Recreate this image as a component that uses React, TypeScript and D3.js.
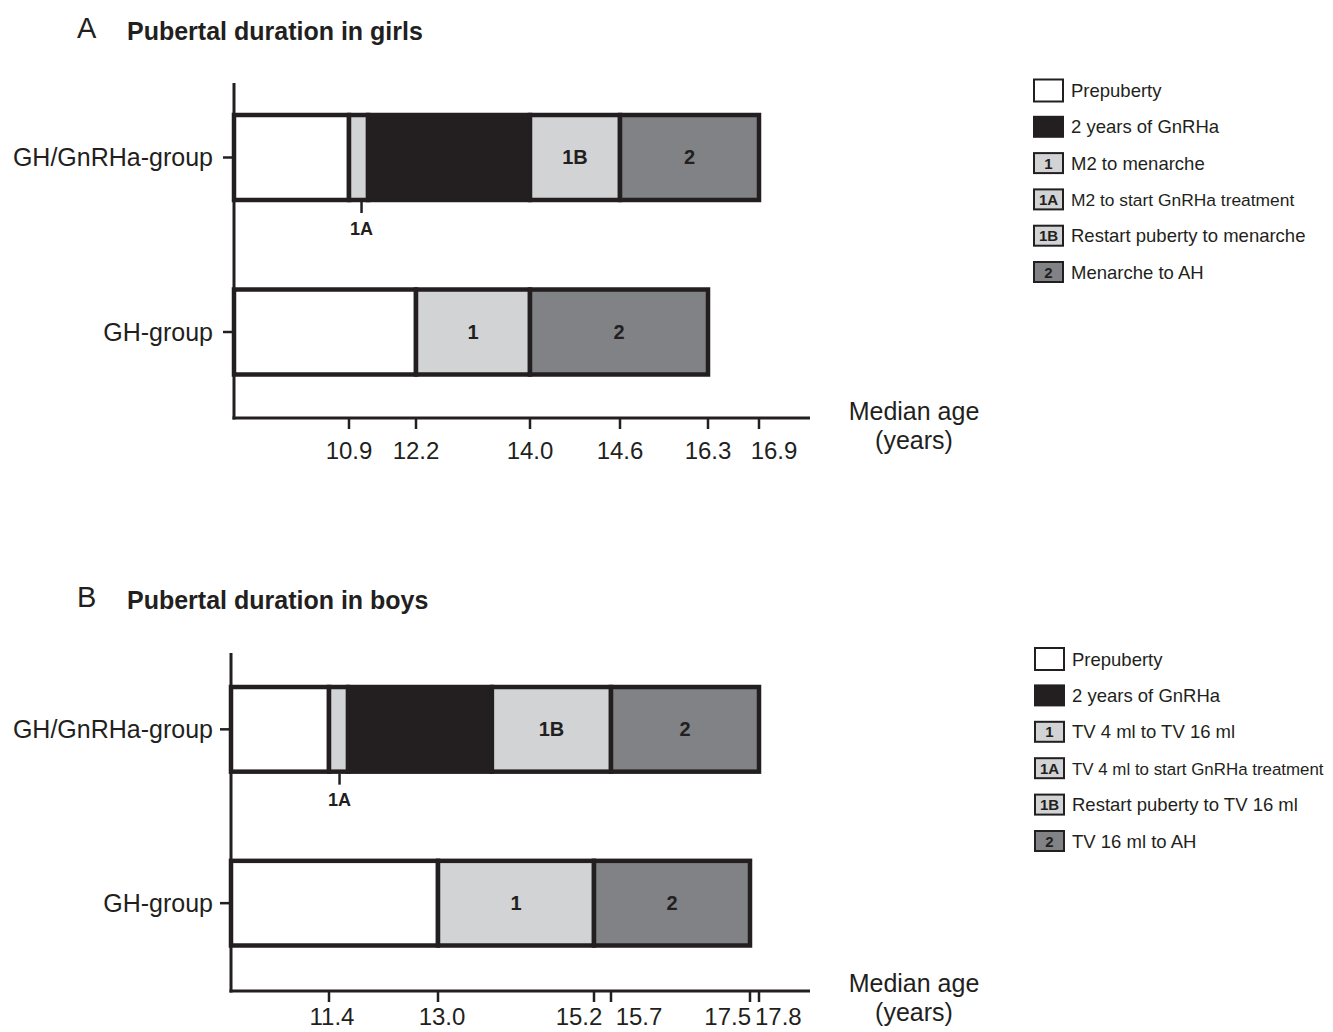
import React from "react";
import * as d3 from "d3";

// ---------- DATA ----------
const categories = ["GH/GnRHa-group", "GH-group"];

// Girls (panel A)
const girlsTicks = [10.9, 12.2, 14.0, 14.6, 16.3, 16.9];
const girlsGnrhaPhases = ["pre", "1A", "gnrha", "1B", "2"];
const girlsGnrhaEnds = [10.9, 11.27, 14.0, 14.6, 16.9];
const girlsGhPhases = ["pre", "1", "2"];
const girlsGhEnds = [12.2, 14.0, 16.3];
const girlsLegendKeys = ["pre", "gnrha", "1", "1A", "1B", "2"];
const girlsLegendLabels = [
  "Prepuberty",
  "2 years of GnRHa",
  "M2 to menarche",
  "M2 to start GnRHa treatment",
  "Restart puberty to menarche",
  "Menarche to AH",
];

// Boys (panel B)
const boysTicks = [11.4, 13.0, 15.2, 15.7, 17.5, 17.8];
const boysGnrhaPhases = ["pre", "1A", "gnrha", "1B", "2"];
const boysGnrhaEnds = [11.4, 11.68, 13.76, 15.7, 17.8];
const boysGhPhases = ["pre", "1", "2"];
const boysGhEnds = [13.0, 15.2, 17.5];
const boysLegendKeys = ["pre", "gnrha", "1", "1A", "1B", "2"];
const boysLegendLabels = [
  "Prepuberty",
  "2 years of GnRHa",
  "TV 4 ml to TV 16 ml",
  "TV 4 ml to start GnRHa treatment",
  "Restart puberty to TV 16 ml",
  "TV 16 ml to AH",
];

// ---------- STYLE / LAYOUT ----------
const DARK = "#231f20";
const LIGHT = "#d1d3d4";
const MID = "#808285";
const FONT = "'Liberation Sans', Arial, Helvetica, sans-serif";

const fills: Record<string, string> = {
  pre: "#ffffff",
  gnrha: DARK,
  "1": LIGHT,
  "1A": LIGHT,
  "1B": LIGHT,
  "2": MID,
};

type PanelCfg = {
  letter: string;
  title: string;
  titleY: number;
  axisX: number;
  axisTop: number;
  axisY: number;
  axisEnd: number;
  bandRange: [number, number];
  ticks: number[];
  tickX: number[]; // schematic (non-linear) axis positions
  tickLabelDx: number[];
  tickLabelAnchor: string[];
  tickLabelDy: number;
  rows: { phases: string[]; ends: number[] }[];
  legendKeys: string[];
  legendLabels: string[];
  legendY0: number;
  legendStep: number;
  legendX: number;
  legendFont: Record<number, number>;
  medianY: number;
  annY: number;
  annDx: number;
};

const panels: PanelCfg[] = [
  {
    letter: "A",
    title: "Pubertal duration in girls",
    titleY: 40,
    axisX: 234,
    axisTop: 83,
    axisY: 418,
    axisEnd: 810,
    bandRange: [115, 374.5],
    ticks: girlsTicks,
    tickX: [349, 416, 530, 620, 708, 759],
    tickLabelDx: [0, 0, 0, 0, 0, 15],
    tickLabelAnchor: ["middle", "middle", "middle", "middle", "middle", "middle"],
    tickLabelDy: 41,
    rows: [
      { phases: girlsGnrhaPhases, ends: girlsGnrhaEnds },
      { phases: girlsGhPhases, ends: girlsGhEnds },
    ],
    legendKeys: girlsLegendKeys,
    legendLabels: girlsLegendLabels,
    legendY0: 90.5,
    legendStep: 36.3,
    legendX: 1034,
    legendFont: { 3: 17.4 },
    medianY: 420,
    annY: 235,
    annDx: 3,
  },
  {
    letter: "B",
    title: "Pubertal duration in boys",
    titleY: 609,
    axisX: 231,
    axisTop: 653,
    axisY: 991,
    axisEnd: 810,
    bandRange: [687, 945.5],
    ticks: boysTicks,
    tickX: [329, 438, 594, 611, 750, 759],
    tickLabelDx: [3, 4, -15, 28, 1, -4],
    tickLabelAnchor: ["middle", "middle", "middle", "middle", "end", "start"],
    tickLabelDy: 34,
    rows: [
      { phases: boysGnrhaPhases, ends: boysGnrhaEnds },
      { phases: boysGhPhases, ends: boysGhEnds },
    ],
    legendKeys: boysLegendKeys,
    legendLabels: boysLegendLabels,
    legendY0: 659,
    legendStep: 36.4,
    legendX: 1035,
    legendFont: { 3: 16.9 },
    medianY: 992,
    annY: 806,
    annDx: 1,
  },
];

function Panel({ cfg }: { cfg: PanelCfg }) {
  const x = d3.scaleLinear().domain(cfg.ticks).range(cfg.tickX);
  const y = d3
    .scaleBand<string>()
    .domain(categories)
    .range(cfg.bandRange)
    .paddingInner(0.513)
    .paddingOuter(0);
  const bw = y.bandwidth();

  const segs: any[] = [];
  const annotations: any[] = [];
  cfg.rows.forEach((row, ri) => {
    const cat = categories[ri];
    const top = y(cat)!;
    row.phases.forEach((ph, i) => {
      const x0 = i === 0 ? cfg.axisX : x(row.ends[i - 1]);
      const x1 = x(row.ends[i]);
      segs.push({ ph, x0, x1, top, key: `${ri}-${i}` });
      if (ph === "1A") {
        annotations.push({ cx: (x0 + x1) / 2 + cfg.annDx, y0: top + bw + 2, key: `a${ri}` });
      }
    });
  });

  const labelSize = 25;

  return (
    <g>
      {/* Heading */}
      <text x={77} y={cfg.titleY - 2} fontFamily={FONT} fontSize={29} fill={DARK}>
        {cfg.letter}
      </text>
      <text x={127} y={cfg.titleY} fontFamily={FONT} fontSize={25} fontWeight="bold" fill={DARK}>
        {cfg.title}
      </text>

      {/* Bars */}
      {segs.map((s) => (
        <rect
          key={s.key}
          x={s.x0}
          y={s.top}
          width={s.x1 - s.x0}
          height={bw}
          fill={fills[s.ph]}
          stroke={DARK}
          strokeWidth={4.5}
        />
      ))}
      {segs
        .filter((s) => s.ph === "1" || s.ph === "1B" || s.ph === "2")
        .map((s) => (
          <text
            key={"t" + s.key}
            x={(s.x0 + s.x1) / 2}
            y={s.top + bw / 2 + 7}
            textAnchor="middle"
            fontFamily={FONT}
            fontSize={20}
            fontWeight="bold"
            fill={DARK}
          >
            {s.ph}
          </text>
        ))}

      {/* 1A annotation */}
      {annotations.map((a) => (
        <g key={a.key}>
          <line x1={a.cx} x2={a.cx} y1={a.y0} y2={a.y0 + 11} stroke={DARK} strokeWidth={2.5} />
          <text
            x={a.cx}
            y={cfg.annY}
            textAnchor="middle"
            fontFamily={FONT}
            fontSize={18}
            fontWeight="bold"
            fill={DARK}
          >
            1A
          </text>
        </g>
      ))}

      {/* Axes */}
      <line x1={cfg.axisX} x2={cfg.axisX} y1={cfg.axisTop} y2={cfg.axisY + 1.5} stroke={DARK} strokeWidth={3} />
      <line x1={cfg.axisX - 1.5} x2={cfg.axisEnd} y1={cfg.axisY} y2={cfg.axisY} stroke={DARK} strokeWidth={3} />

      {/* Y ticks & labels */}
      {categories.map((c) => {
        const cy = y(c)! + bw / 2;
        return (
          <g key={c}>
            <line x1={cfg.axisX - 11} x2={cfg.axisX} y1={cy} y2={cy} stroke={DARK} strokeWidth={2.5} />
            <text
              x={213}
              y={cy + 8.5}
              textAnchor="end"
              fontFamily={FONT}
              fontSize={labelSize}
              fill={DARK}
            >
              {c}
            </text>
          </g>
        );
      })}

      {/* X ticks */}
      {cfg.ticks.map((t, i) => (
        <g key={t}>
          <line x1={x(t)} x2={x(t)} y1={cfg.axisY} y2={cfg.axisY + 11} stroke={DARK} strokeWidth={2.5} />
          <text
            x={x(t) + cfg.tickLabelDx[i]}
            y={cfg.axisY + cfg.tickLabelDy}
            textAnchor={cfg.tickLabelAnchor[i]}
            fontFamily={FONT}
            fontSize={24}
            fill={DARK}
          >
            {d3.format(".1f")(t)}
          </text>
        </g>
      ))}

      {/* Axis title */}
      <text x={914} y={cfg.medianY} textAnchor="middle" fontFamily={FONT} fontSize={labelSize} fill={DARK}>
        Median age
      </text>
      <text x={914} y={cfg.medianY + 29} textAnchor="middle" fontFamily={FONT} fontSize={labelSize} fill={DARK}>
        (years)
      </text>

      {/* Legend */}
      {cfg.legendKeys.map((k, i) => {
        const cy = cfg.legendY0 + i * cfg.legendStep;
        const isNum = k !== "pre" && k !== "gnrha";
        const bx = cfg.legendX;
        const fs = cfg.legendFont[i] ?? 18.5;
        return (
          <g key={k}>
            {k === "pre" && (
              <rect x={bx} y={cy - 11} width={29} height={22} fill="#fff" stroke={DARK} strokeWidth={2} />
            )}
            {k === "gnrha" && <rect x={bx - 1} y={cy - 11} width={31} height={22} fill={DARK} />}
            {isNum && (
              <>
                <rect x={bx} y={cy - 10} width={29} height={20} fill={fills[k]} stroke={DARK} strokeWidth={2} />
                <text
                  x={bx + 14.5}
                  y={cy + 5.5}
                  textAnchor="middle"
                  fontFamily={FONT}
                  fontSize={15}
                  fontWeight="bold"
                  fill={DARK}
                >
                  {k}
                </text>
              </>
            )}
            <text
              x={bx + 37}
              y={cy + 6.5}
              fontFamily={FONT}
              fontSize={fs}
              fill={DARK}
            >
              {cfg.legendLabels[i]}
            </text>
          </g>
        );
      })}
    </g>
  );
}

export default function App() {
  return (
    <svg
      width={1333}
      height={1032}
      viewBox="0 0 1333 1032"
      style={{ position: "absolute", left: 0, top: 0, display: "block", background: "#fff" }}
    >
      <rect x={0} y={0} width={1333} height={1032} fill="#fff" />
      {panels.map((p) => (
        <Panel key={p.letter} cfg={p} />
      ))}
    </svg>
  );
}
